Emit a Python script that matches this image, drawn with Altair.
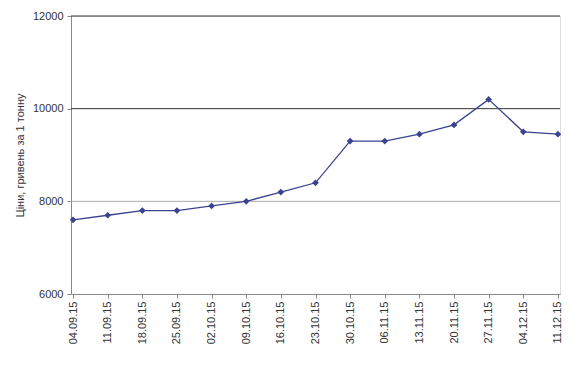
import altair as alt
import pandas as pd

dates = ["04.09.15", "11.09.15", "18.09.15", "25.09.15", "02.10.15", "09.10.15",
         "16.10.15", "23.10.15", "30.10.15", "06.11.15", "13.11.15", "20.11.15",
         "27.11.15", "04.12.15", "11.12.15"]
prices = [7600, 7700, 7800, 7800, 7900, 8000, 8200, 8400, 9300, 9300, 9450, 9650,
          10200, 9500, 9450]

grid_values = [8000, 10000, 12000]
grid_colors = ["#aaaaaa", "#333333", "#333333"]

df = pd.DataFrame({"date": dates, "price": prices})
gdf = pd.DataFrame({"v": grid_values, "c": grid_colors})

FONT = "Liberation Sans"

y_scale = alt.Scale(domain=[6000, 12000], nice=False, zero=False)

grid = alt.Chart(gdf).mark_rule(strokeWidth=1).encode(
    y=alt.Y("v:Q", scale=y_scale),
    x=alt.value(0),
    x2=alt.value(489),
    color=alt.Color("c:N", scale=None),
)

x_enc = alt.X(
    "date:O",
    sort=dates,
    scale=alt.Scale(type="point", padding=0.06),
    axis=alt.Axis(
        title=None, labelAngle=-90, labelFont=FONT, labelFontSize=11,
        labelColor="#333333", domainColor="#888888", tickColor="#888888",
        tickSize=4, labelPadding=3, grid=False,
    ),
)
y_enc = alt.Y(
    "price:Q",
    scale=y_scale,
    axis=alt.Axis(
        values=[6000, 8000, 10000, 12000], format="d", title="Ціни, гривень за 1 тонну",
        titleFont=FONT, titleFontSize=11, titleFontWeight="normal", titleColor="#333333",
        titlePadding=7, labelFont=FONT, labelFontSize=11, labelColor="#333333",
        domainColor="#888888", tickColor="#888888", tickSize=4, labelPadding=4,
        grid=False,
    ),
)

line = alt.Chart(df).mark_line(
    color="#3b4391", strokeWidth=1.3,
    point=alt.OverlayMarkDef(shape="diamond", size=45, filled=True, color="#3b4391"),
).encode(x=x_enc, y=y_enc)

chart = alt.layer(grid, line).properties(
    width=489, height=278,
    autosize=alt.AutoSizeParams(type="none"),
    padding={"left": 63, "top": 8, "right": 20, "bottom": 72},
).configure_view(stroke=None).configure(background="white")

chart.save("out.html", embed_options={"renderer": "svg", "actions": False})
